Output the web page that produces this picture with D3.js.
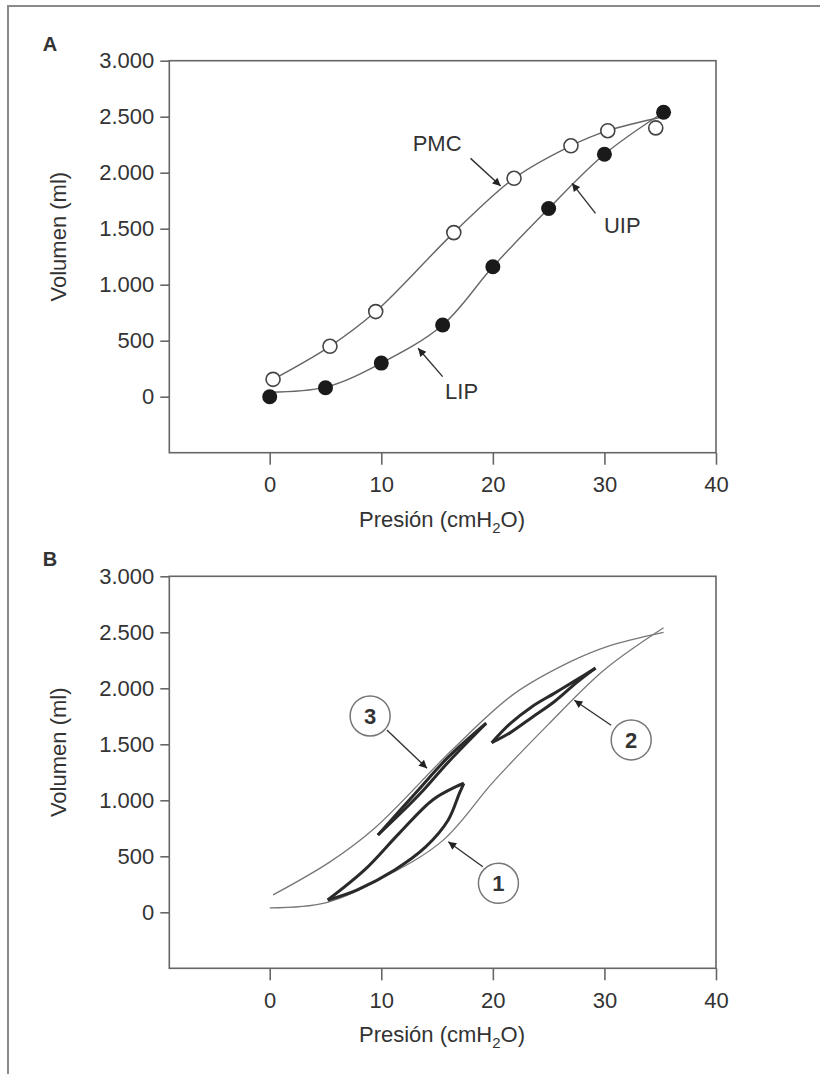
<!DOCTYPE html>
<meta charset="utf-8">
<style>
  body { margin: 0; background: #fff; }
  svg text { font-family: "Liberation Sans", Arial, sans-serif; fill: #333; }
</style>
<script src="https://d3js.org/d3.v7.min.js"></script>
<svg id="chart" width="820" height="1074"></svg>
<script>
// ticks
var presionTicks = [0, 10, 20, 30, 40];
var volumenTicks = [0, 500, 1000, 1500, 2000, 2500, 3000];

// panel A: measured points
var inflacionP = [0, 5, 10, 15.5, 20, 25, 30, 35.3];
var inflacionV = [0, 80, 300, 640, 1160, 1680, 2165, 2540];
var deflacionP = [0.3, 5.4, 9.5, 16.5, 21.9, 27, 30.3, 34.6];
var deflacionV = [155, 450, 760, 1465, 1950, 2240, 2375, 2400];

// smooth curves (also the envelope in panel B)
var curvaInfP = [0, 5, 10, 15.5, 20, 25, 30, 35.3];
var curvaInfV = [40, 85, 300, 640, 1160, 1680, 2165, 2540];
var curvaDefP = [0.3, 5.4, 9.5, 16.5, 21.9, 27, 30.3, 35.3];
var curvaDefV = [155, 450, 760, 1465, 1950, 2240, 2375, 2500];

// panel B: loops, each as two branches tip to tip
var loop1Sup = [[5.2, 110], [8.5, 378], [11.6, 705], [14.6, 1003], [16.7, 1122], [17.4, 1152]];
var loop1Inf = [[17.4, 1152], [17.0, 1062], [16.0, 824], [14.0, 586], [11.2, 378], [7.8, 199], [5.2, 110]];
var loop2Sup = [[19.9, 1514], [21.5, 1680], [23.5, 1836], [25.5, 1955], [27.5, 2075], [29.2, 2180]];
var loop2Inf = [[29.2, 2180], [27.5, 2050], [25.5, 1880], [23.5, 1740], [21.5, 1600], [19.9, 1514]];
var loop3Sup = [[9.7, 690], [13.3, 1090], [16.0, 1385], [19.4, 1688]];
var loop3Inf = [[19.4, 1688], [16.0, 1340], [13.3, 1040], [9.7, 690]];

// annotations (data coords): label, label pos, arrow from, arrow to
var notasA = [
  { t: "PMC", at: [15.0, 2263], from: [18.0, 2128], to: [20.7, 1881] },
  { t: "UIP", at: [31.6, 1533], from: [29.2, 1637], to: [27.1, 1905] },
  { t: "LIP", at: [17.2, 54], from: [15.5, 179], to: [13.3, 432] }
];
var notasB = [
  { t: "1", at: [20.5, 259], from: [19.1, 407], to: [16.0, 630] },
  { t: "2", at: [32.4, 1539], from: [30.6, 1670], to: [27.3, 1893] },
  { t: "3", at: [9.0, 1753], from: [10.5, 1628], to: [14.1, 1286] }
];

var svg = d3.select("#chart");

svg.append("rect").attr("width", 820).attr("height", 1074).attr("fill", "#fff");

// page frame (top and left only, image is cropped)
svg.append("path")
  .attr("d", "M8,1074 L8,6 L820,6")
  .attr("fill", "none").attr("stroke", "#8a8a8a").attr("stroke-width", 2);

svg.append("defs").append("marker")
  .attr("id", "flecha")
  .attr("viewBox", "0 0 10 10")
  .attr("refX", 10).attr("refY", 5)
  .attr("markerWidth", 10).attr("markerHeight", 8)
  .attr("markerUnits", "userSpaceOnUse")
  .attr("orient", "auto")
  .append("path").attr("d", "M0,0 L10,5 L0,10 Z").attr("fill", "#222");

var fmtVol = function(d) {
  return d3.format(",")(d).replace(",", ".");
};

var x = d3.scaleLinear().domain([-9, 40]).range([169.3, 716]);

function panel(top, letra) {
  var y = d3.scaleLinear().domain([-500, 3000]).range([top + 392, top]);
  var g = svg.append("g");

  g.append("text").attr("x", 50).attr("y", top - 10)
    .attr("text-anchor", "middle")
    .style("font-size", "20px").style("font-weight", "bold")
    .text(letra);

  g.append("rect")
    .attr("x", x(-9)).attr("y", top)
    .attr("width", x(40) - x(-9)).attr("height", 392)
    .attr("fill", "none").attr("stroke", "#666").attr("stroke-width", 1.6);

  var ay = g.append("g").attr("transform", "translate(" + x(-9) + ",0)")
    .call(d3.axisLeft(y).tickValues(volumenTicks).tickFormat(fmtVol).tickSize(9).tickPadding(6));
  var ax = g.append("g").attr("transform", "translate(0," + (top + 392) + ")")
    .call(d3.axisBottom(x).tickValues(presionTicks).tickSize(12).tickPadding(12));
  [ax, ay].forEach(function(a) {
    a.select(".domain").remove();
    a.selectAll("line").attr("stroke", "#666").attr("stroke-width", 1.6);
    a.selectAll("text").style("font-size", "22px").style("font-family", "'Liberation Sans', Arial, sans-serif").attr("fill", "#333");
  });

  var xt = g.append("text")
    .attr("x", 442).attr("y", top + 466)
    .attr("text-anchor", "middle").style("font-size", "22px");
  xt.append("tspan").text("Presión (cmH");
  xt.append("tspan").attr("dy", 6).style("font-size", "15px").text("2");
  xt.append("tspan").attr("dy", -6).text("O)");

  g.append("text")
    .attr("transform", "translate(" + 66 + "," + (top + 176) + ") rotate(-90)")
    .attr("text-anchor", "middle").style("font-size", "22px")
    .text("Volumen (ml)");

  return { g: g, y: y };
}

function curva(y) {
  return d3.line()
    .x(function(d) { return x(d[0]); })
    .y(function(d) { return y(d[1]); })
    .curve(d3.curveCatmullRom.alpha(0.5));
}

function zipPV(p, v) {
  return p.map(function(d, i) { return [d, v[i]]; });
}

function flechas(g, y, notas) {
  g.selectAll(null).data(notas).enter().append("line")
    .attr("x1", function(d) { return x(d.from[0]); })
    .attr("y1", function(d) { return y(d.from[1]); })
    .attr("x2", function(d) { return x(d.to[0]); })
    .attr("y2", function(d) { return y(d.to[1]); })
    .attr("stroke", "#333").attr("stroke-width", 1.4)
    .attr("marker-end", "url(#flecha)");
}

// ---- panel A
var A = panel(60.7, "A");
var lineA = curva(A.y);

A.g.append("path").datum(zipPV(curvaDefP, curvaDefV))
  .attr("d", lineA).attr("fill", "none").attr("stroke", "#666").attr("stroke-width", 1.4);
A.g.append("path").datum(zipPV(curvaInfP, curvaInfV))
  .attr("d", lineA).attr("fill", "none").attr("stroke", "#666").attr("stroke-width", 1.4);

A.g.selectAll(null).data(zipPV(deflacionP, deflacionV)).enter().append("circle")
  .attr("cx", function(d) { return x(d[0]); })
  .attr("cy", function(d) { return A.y(d[1]); })
  .attr("r", 7).attr("fill", "#fff").attr("stroke", "#444").attr("stroke-width", 1.6);
A.g.selectAll(null).data(zipPV(inflacionP, inflacionV)).enter().append("circle")
  .attr("cx", function(d) { return x(d[0]); })
  .attr("cy", function(d) { return A.y(d[1]); })
  .attr("r", 7.5).attr("fill", "#1a1a1a");

flechas(A.g, A.y, notasA);
A.g.selectAll(null).data(notasA).enter().append("text")
  .attr("x", function(d) { return x(d.at[0]); })
  .attr("y", function(d) { return A.y(d.at[1]); })
  .attr("dy", "0.36em").attr("text-anchor", "middle")
  .style("font-size", "22px")
  .text(function(d) { return d.t; });

// ---- panel B
var B = panel(576.3, "B");
var lineB = curva(B.y);

[zipPV(curvaDefP, curvaDefV), zipPV(curvaInfP, curvaInfV)].forEach(function(c) {
  B.g.append("path").datum(c)
    .attr("d", lineB).attr("fill", "none").attr("stroke", "#777").attr("stroke-width", 1.3);
});
[loop1Sup, loop1Inf, loop2Sup, loop2Inf, loop3Sup, loop3Inf].forEach(function(c) {
  B.g.append("path").datum(c)
    .attr("d", lineB).attr("fill", "none").attr("stroke", "#2a2a2a")
    .attr("stroke-width", 3).attr("stroke-linejoin", "round");
});

flechas(B.g, B.y, notasB);
B.g.selectAll(null).data(notasB).enter().append("circle")
  .attr("cx", function(d) { return x(d.at[0]); })
  .attr("cy", function(d) { return B.y(d.at[1]); })
  .attr("r", 20).attr("fill", "#fff").attr("stroke", "#777").attr("stroke-width", 1.5);
B.g.selectAll(null).data(notasB).enter().append("text")
  .attr("x", function(d) { return x(d.at[0]); })
  .attr("y", function(d) { return B.y(d.at[1]); })
  .attr("dy", "0.36em").attr("text-anchor", "middle")
  .style("font-size", "22px").style("font-weight", "bold")
  .text(function(d) { return d.t; });
</script>
